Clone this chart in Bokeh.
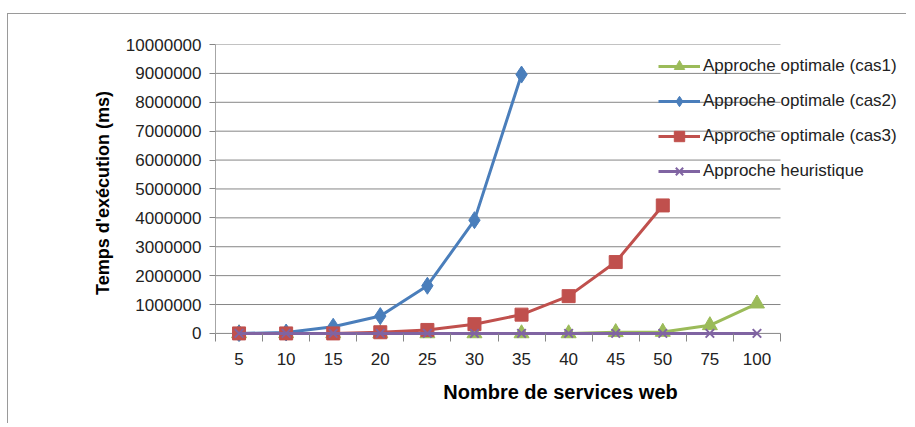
from bokeh.plotting import figure
from bokeh.models import FixedTicker, Legend, LegendItem
from bokeh.embed import file_html
from bokeh.resources import INLINE

categories = ["5", "10", "15", "20", "25", "30", "35", "40", "45", "50", "75", "100"]
cas1 = [0, 0, 0, 0, 0, 0, 0, 0, 40000, 50000, 280000, 1030000]
cas2 = [0, 30000, 230000, 600000, 1650000, 3920000, 8960000]
cas3 = [0, 0, 0, 40000, 120000, 320000, 650000, 1290000, 2470000, 4430000]
heuristique = [0, 0, 0, 0, 0, 0, 0, 0, 0, 0, 0, 0]
y_ticks = [0, 1000000, 2000000, 3000000, 4000000, 5000000, 6000000, 7000000, 8000000, 9000000, 10000000]

n = len(categories)
pos = [i + 0.5 for i in range(n)]
FONT = "Liberation Sans"

# frame extends to the right so that the legend (which overlaps the plot area) is not clipped
p = figure(width=899, height=410, output_backend="svg", toolbar_location=None,
           x_range=(0, n * 690 / 565), y_range=(-280000, 10000000),
           min_border_left=207, min_border_right=2, min_border_top=30, min_border_bottom=83,
           margin=(13, 0, 0, 7),
           styles={"border-left": "1px solid #9a9a9a", "border-top": "1px solid #9a9a9a"})
p.outline_line_color = None
p.background_fill_color = "white"
p.border_fill_color = "white"
p.xgrid.grid_line_color = None
p.ygrid.grid_line_color = None

# horizontal gridlines limited to the category area
p.segment(x0=[0] * len(y_ticks), x1=[n] * len(y_ticks), y0=y_ticks, y1=y_ticks,
          line_color="#868686", line_width=1)

# x axis
p.xaxis.ticker = FixedTicker(ticks=pos, minor_ticks=list(range(n + 1)))
p.xaxis.major_label_overrides = {pp: c for pp, c in zip(pos, categories)}
p.xaxis.major_tick_out = 0
p.xaxis.major_tick_in = 0
p.xaxis.minor_tick_out = 0
p.xaxis.minor_tick_in = 8
p.xaxis.minor_tick_line_color = "#868686"
p.xaxis.axis_line_color = None
p.xaxis.major_label_standoff = 11
p.xaxis.major_label_text_font = FONT
p.xaxis.major_label_text_font_size = "17px"
p.xaxis.major_label_text_color = "#222222"
p.xaxis.axis_label = "Nombre de services web"
p.xaxis.axis_label_text_font = FONT
p.xaxis.axis_label_text_font_style = "bold"
p.xaxis.axis_label_text_font_size = "20px"
p.xaxis.axis_label_text_color = "#000000"
p.xaxis.axis_label_standoff = 13

# y axis
p.yaxis.ticker = FixedTicker(ticks=y_ticks)
p.yaxis.bounds = (0, 10000000)
p.yaxis.major_label_overrides = {t: str(t) for t in y_ticks}
p.yaxis.major_tick_out = 6
p.yaxis.major_tick_in = 0
p.yaxis.minor_tick_line_color = None
p.yaxis.major_tick_line_color = "#868686"
p.yaxis.axis_line_color = "#a6a6a6"
p.yaxis.major_label_standoff = 8
p.yaxis.major_label_text_font = FONT
p.yaxis.major_label_text_font_size = "17px"
p.yaxis.major_label_text_color = "#222222"
p.yaxis.axis_label = "Temps d'exécution (ms)"
p.yaxis.axis_label_text_font = FONT
p.yaxis.axis_label_text_font_style = "bold"
p.yaxis.axis_label_text_font_size = "18px"
p.yaxis.axis_label_text_color = "#000000"
p.yaxis.axis_label_standoff = 10

GREEN = "#9BBB59"
BLUE = "#4A7EBB"
RED = "#C0504D"
PURPLE = "#8064A2"

l1 = p.line(pos[:len(cas1)], cas1, line_color=GREEN, line_width=3)
m1 = p.scatter(pos[:len(cas1)], cas1, marker="triangle", size=15, fill_color=GREEN, line_color=GREEN)
l2 = p.line(pos[:len(cas2)], cas2, line_color=BLUE, line_width=3)
m2 = p.scatter(pos[:len(cas2)], cas2, marker="diamond", size=17, fill_color=BLUE, line_color=BLUE)
l3 = p.line(pos[:len(cas3)], cas3, line_color=RED, line_width=3)
m3 = p.scatter(pos[:len(cas3)], cas3, marker="square", size=13, fill_color=RED, line_color=RED)
l4 = p.line(pos[:len(heuristique)], heuristique, line_color=PURPLE, line_width=3)
m4 = p.scatter(pos[:len(heuristique)], heuristique, marker="x", size=12, line_color=PURPLE, line_width=2)

legend = Legend(items=[
    LegendItem(label="Approche optimale (cas1)", renderers=[l1, m1]),
    LegendItem(label="Approche optimale (cas2)", renderers=[l2, m2]),
    LegendItem(label="Approche optimale (cas3)", renderers=[l3, m3]),
    LegendItem(label="Approche heuristique", renderers=[l4, m4]),
], location=(443, 157))
legend.background_fill_alpha = 0
legend.border_line_color = None
legend.padding = 0
legend.margin = 0
legend.spacing = 9
legend.label_height = 26
legend.glyph_height = 26
legend.glyph_width = 42
legend.label_standoff = 3
legend.label_text_font = FONT
legend.label_text_font_size = "17px"
legend.label_text_color = "#222222"
p.add_layout(legend, "center")

open("out.html", "w").write(file_html(p, INLINE))
